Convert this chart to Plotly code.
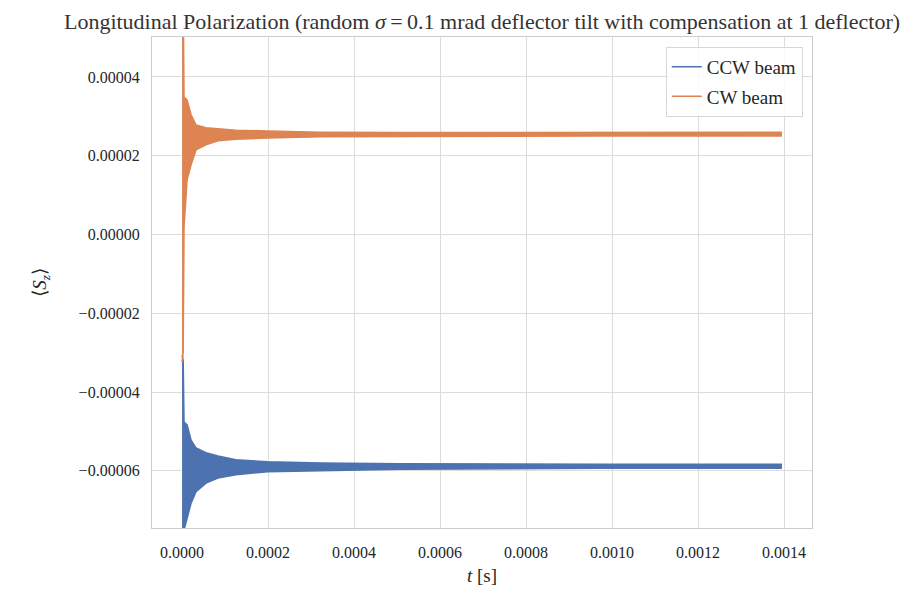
import plotly.graph_objects as go

# ---- data (envelope of the fast oscillation) ----
t_env = [0.0, 2.5e-6, 4.5e-6, 1.16e-5, 2.09e-5, 3.25e-5, 5.56e-5, 8.34e-5,
         1.25e-4, 1.99e-4, 3.22e-4, 5.08e-4, 9.71e-4, 1.395e-3]

# CW beam (orange)
cw_upper = [6.0e-5, 6.0e-5, 3.49e-5, 3.42e-5, 3.04e-5, 2.78e-5, 2.71e-5, 2.68e-5,
            2.65e-5, 2.63e-5, 2.60e-5, 2.59e-5, 2.60e-5, 2.60e-5]
cw_lower = [-3.24e-5, -3.0e-5, 0.19e-5, 1.39e-5, 1.77e-5, 2.15e-5, 2.28e-5, 2.38e-5,
            2.42e-5, 2.45e-5, 2.48e-5, 2.49e-5, 2.50e-5, 2.50e-5]

# CCW beam (blue)
ccw_upper = [-3.06e-5, -3.2e-5, -4.76e-5, -4.83e-5, -5.22e-5, -5.42e-5, -5.54e-5, -5.62e-5,
             -5.72e-5, -5.77e-5, -5.80e-5, -5.82e-5, -5.83e-5, -5.83e-5]
ccw_lower = [-9.0e-5, -9.0e-5, -7.5e-5, -7.17e-5, -6.82e-5, -6.53e-5, -6.31e-5, -6.18e-5,
             -6.10e-5, -6.02e-5, -5.99e-5, -5.96e-5, -5.93e-5, -5.93e-5]

x_tickvals = [0.0, 0.0002, 0.0004, 0.0006, 0.0008, 0.0010, 0.0012, 0.0014]
x_ticktext = ["0.0000", "0.0002", "0.0004", "0.0006", "0.0008", "0.0010", "0.0012", "0.0014"]
y_tickvals = [0.00004, 0.00002, 0.0, -0.00002, -0.00004, -0.00006]
y_ticktext = ["0.00004", "0.00002", "0.00000", "\u22120.00002", "\u22120.00004", "\u22120.00006"]

BLUE = "#4C72B0"
ORANGE = "#DD8452"
FONT = "Liberation Serif"
TXT = "#262626"

fig = go.Figure()

for name, up, lo, col, grp in [("CCW beam", ccw_upper, ccw_lower, BLUE, "a"),
                                ("CW beam", cw_upper, cw_lower, ORANGE, "b")]:
    fig.add_trace(go.Scatter(x=t_env, y=up, mode="lines", name=name,
                             line=dict(color=col, width=1.5), legendgroup=grp,
                             showlegend=True))
    fig.add_trace(go.Scatter(x=t_env, y=lo, mode="lines", name=name,
                             line=dict(color=col, width=1.5), fill="tonexty",
                             fillcolor=col, legendgroup=grp, showlegend=False))

fig.update_layout(
    width=910, height=595,
    margin=dict(l=152, r=98, t=37, b=67),
    paper_bgcolor="white", plot_bgcolor="white",
    font=dict(family=FONT, color=TXT, size=16),
    title=dict(
        text="Longitudinal Polarization (random <i>σ</i>\u2009=\u20090.1 mrad deflector tilt with compensation at 1 deflector)",
        x=0.5, xref="paper", xanchor="center", y=0.965, yanchor="middle",
        font=dict(family=FONT, size=22, color="#333333")),
    legend=dict(x=0.986, y=0.98, xanchor="right", yanchor="top",
                bgcolor="rgba(255,255,255,0.85)", bordercolor="#d6d6d6", borderwidth=1,
                font=dict(family=FONT, size=19, color=TXT), tracegroupgap=2,
                traceorder="grouped"),
    showlegend=True,
)

fig.update_xaxes(range=[-7.0e-5, 1.465e-3], tickvals=x_tickvals, ticktext=x_ticktext,
                 showgrid=True, gridcolor="#dcdcdc", gridwidth=1.3,
                 showline=True, linecolor="#cccccc", linewidth=1.3, mirror=True,
                 zeroline=False, ticks="", ticklabelstandoff=10,
                 tickfont=dict(family=FONT, size=16, color=TXT),
                 title=dict(text="<i>t</i> [s]", font=dict(family=FONT, size=19, color=TXT),
                            standoff=8))
fig.update_yaxes(range=[-7.45e-5, 5.015e-5], tickvals=y_tickvals, ticktext=y_ticktext,
                 showgrid=True, gridcolor="#dcdcdc", gridwidth=1.3,
                 showline=True, linecolor="#cccccc", linewidth=1.3, mirror=True,
                 zeroline=False, ticks="", ticklabelstandoff=8,
                 tickfont=dict(family=FONT, size=16, color=TXT),
                 title=dict(text="⟨<i>S<sub>z</sub></i>⟩", font=dict(family=FONT, size=19, color=TXT),
                            standoff=26))

fig.write_html("out.html")
